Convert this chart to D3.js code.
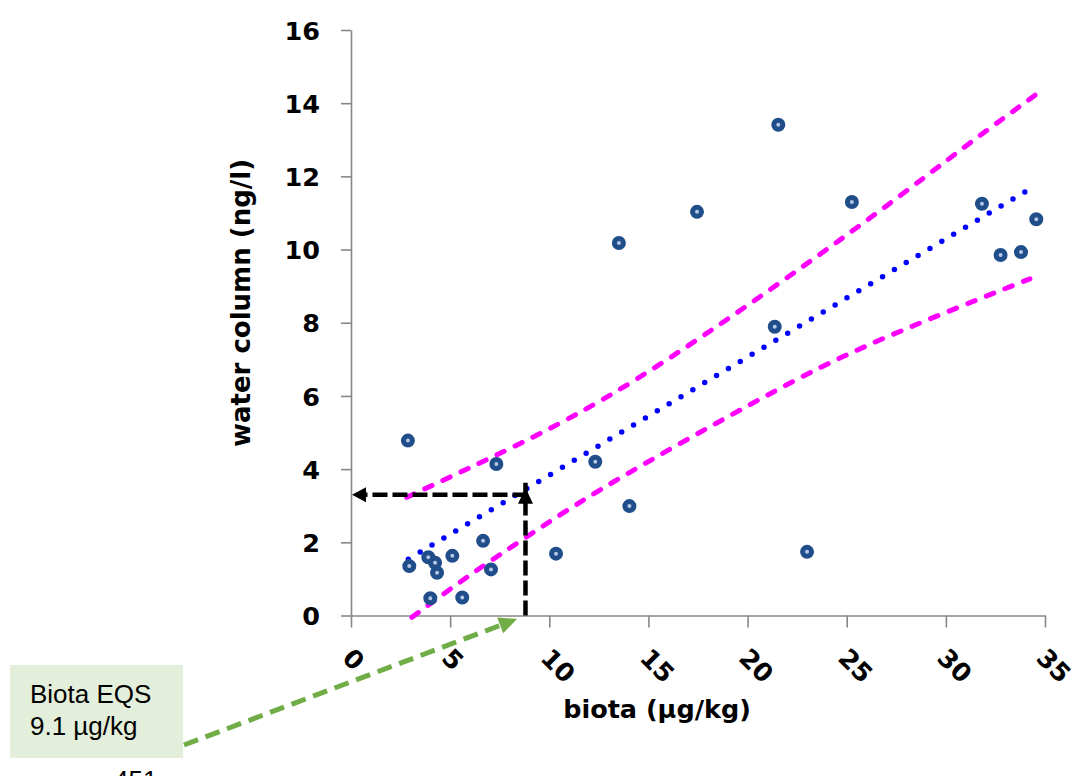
<!DOCTYPE html>
<html>
<head>
<meta charset="utf-8">
<script src="https://cdn.jsdelivr.net/npm/d3@7"></script>
<style>
  body { margin: 0; background: #fff; }
  svg { display: block; }
</style>
</head>
<body>
<svg id="chart" width="1071" height="776"></svg>
<script>
const biota = [2.87, 2.94, 3.90, 4.24, 4.34, 4.00, 5.11, 5.61, 6.66, 7.06, 7.33, 10.34,
               12.32, 14.04, 13.51, 17.45, 21.55, 21.37, 23.0, 25.26, 31.82, 32.76, 33.79, 34.56];
const water = [4.78, 1.35, 1.59, 1.44, 1.17, 0.47, 1.63, 0.49, 2.04, 1.26, 4.14, 1.69,
               4.20, 2.99, 10.18, 11.03, 13.41, 7.89, 1.74, 11.30, 11.25, 9.85, 9.93, 10.83];

// linear trend (end points) and the two confidence bands
const trendX = [2.89, 34.49];
const trendY = [1.54, 11.74];
const upperX = [2.81, 6.84, 12.56, 19.62, 27.01, 31.05, 34.58];
const upperY = [3.23, 4.25, 5.76, 8.30, 11.17, 12.86, 14.25];
const lowerX = [3.07, 5.83, 8.86, 12.56, 20.79, 24.66, 29.03, 34.24];
const lowerY = [-0.05, 1.06, 2.15, 3.48, 5.98, 7.07, 8.08, 9.20];

const xTicks = [0, 5, 10, 15, 20, 25, 30, 35];
const yTicks = [0, 2, 4, 6, 8, 10, 12, 14, 16];

// read-across from the EQS
const eqsBiota = 8.8;
const eqsWater = 3.3;

const svg = d3.select("#chart");
const x = d3.scaleLinear().domain([0, 35]).range([351, 1045]);
const y = d3.scaleLinear().domain([0, 16]).range([615.5, 30]);

const AXIS = "#878787";
const BOLD = "'DejaVu Sans', sans-serif";

// y axis
const gy = svg.append("g")
  .attr("transform", `translate(${x(0)},0)`)
  .call(d3.axisLeft(y).tickValues(yTicks).tickSize(10).tickSizeOuter(0).tickPadding(21));
// x axis
const gx = svg.append("g")
  .attr("transform", `translate(0,${y(0)})`)
  .call(d3.axisBottom(x).tickValues(xTicks).tickSize(12).tickSizeOuter(0));

[gy, gx].forEach(g => {
  g.select(".domain").attr("stroke", AXIS).attr("stroke-width", 1.6);
  g.selectAll(".tick line").attr("stroke", AXIS).attr("stroke-width", 1.6);
  g.selectAll(".tick text")
    .attr("fill", "#000")
    .attr("font-family", BOLD)
    .attr("font-weight", "bold")
    .attr("font-size", 25.5);
});
gy.selectAll(".tick text").attr("dy", "0.36em");
gx.selectAll(".tick text")
  .attr("y", null).attr("dy", "0.36em")
  .attr("text-anchor", "start")
  .attr("transform", "translate(-4,37.5) rotate(45)");

// axis titles
svg.append("text")
  .attr("transform", `translate(250,${303}) rotate(-90)`)
  .attr("text-anchor", "middle")
  .attr("font-family", BOLD).attr("font-weight", "bold").attr("font-size", 26)
  .text("water column (ng/l)");
svg.append("text")
  .attr("x", 657).attr("y", 718)
  .attr("text-anchor", "middle")
  .attr("font-family", BOLD).attr("font-weight", "bold").attr("font-size", 25.5)
  .text("biota (µg/kg)");

// bands
const band = d3.line().x(d => x(d[0])).y(d => y(d[1])).curve(d3.curveBasis);
[[upperX, upperY], [lowerX, lowerY]].forEach(([xs, ys]) => {
  svg.append("path")
    .datum(xs.map((v, i) => [v, ys[i]]))
    .attr("d", band)
    .attr("fill", "none")
    .attr("stroke", "#ff00ff")
    .attr("stroke-width", 5)
    .attr("stroke-linecap", "round")
    .attr("stroke-dasharray", "8 12");
});

// trend line (round dots)
svg.append("path")
  .datum(trendX.map((v, i) => [v, trendY[i]]))
  .attr("d", d3.line().x(d => x(d[0])).y(d => y(d[1])))
  .attr("fill", "none")
  .attr("stroke", "#0000ff")
  .attr("stroke-width", 5.5)
  .attr("stroke-linecap", "round")
  .attr("stroke-dasharray", "0 13.8");

// black read-across arrows
const ex = x(eqsBiota), ey = y(eqsWater);
svg.append("line")
  .attr("x1", ex).attr("x2", ex).attr("y1", y(0)).attr("y2", ey - 12)
  .attr("stroke", "#000").attr("stroke-width", 4.5).attr("stroke-dasharray", "15 5");
svg.append("path")
  .attr("d", `M${ex},${ey - 7} L${ex - 7.5},${ey + 9} L${ex + 7.5},${ey + 9} Z`)
  .attr("fill", "#000");
svg.append("line")
  .attr("x1", ex + 2).attr("x2", x(0) + 12).attr("y1", ey).attr("y2", ey)
  .attr("stroke", "#000").attr("stroke-width", 4.5).attr("stroke-dasharray", "15 5");
svg.append("path")
  .attr("d", `M${x(0) + 1},${ey} L${x(0) + 15},${ey - 7.5} L${x(0) + 15},${ey + 7.5} Z`)
  .attr("fill", "#000");

// points
svg.append("g").selectAll("circle")
  .data(biota.map((v, i) => [v, water[i]]))
  .join("circle")
  .attr("cx", d => x(d[0]))
  .attr("cy", d => y(d[1]))
  .attr("r", 4.5)
  .attr("fill", "#b4c7e7")
  .attr("stroke", "#1f4e8a")
  .attr("stroke-width", 5);

// EQS call-out box and green arrow
svg.append("rect")
  .attr("x", 10).attr("y", 665).attr("width", 173).attr("height", 93)
  .attr("fill", "#e3efda");
const label = svg.append("text")
  .attr("font-family", "'Liberation Sans', Arial, sans-serif")
  .attr("font-size", 26).attr("fill", "#000");
label.append("tspan").attr("x", 30).attr("y", 703).text("Biota EQS");
label.append("tspan").attr("x", 30).attr("y", 735).text("9.1 µg/kg");

const ax0 = 184, ay0 = 745, ax1 = 517, ay1 = 619;
const ang = Math.atan2(ay1 - ay0, ax1 - ax0);
const hl = 18, hw = 8.5;
const bx = ax1 - hl * Math.cos(ang), by = ay1 - hl * Math.sin(ang);
svg.append("line")
  .attr("x1", ax0).attr("y1", ay0).attr("x2", bx + 2 * Math.cos(ang)).attr("y2", by + 2 * Math.sin(ang))
  .attr("stroke", "#70ad47").attr("stroke-width", 5).attr("stroke-dasharray", "15 8");
svg.append("path")
  .attr("d", `M${ax1},${ay1} L${bx + hw * Math.sin(ang)},${by - hw * Math.cos(ang)} L${bx - hw * Math.sin(ang)},${by + hw * Math.cos(ang)} Z`)
  .attr("fill", "#70ad47");

svg.append("text")
  .attr("x", 114).attr("y", 789)
  .attr("font-family", "'Liberation Sans', Arial, sans-serif")
  .attr("font-size", 26).attr("fill", "#000")
  .text("451");
</script>
</body>
</html>
